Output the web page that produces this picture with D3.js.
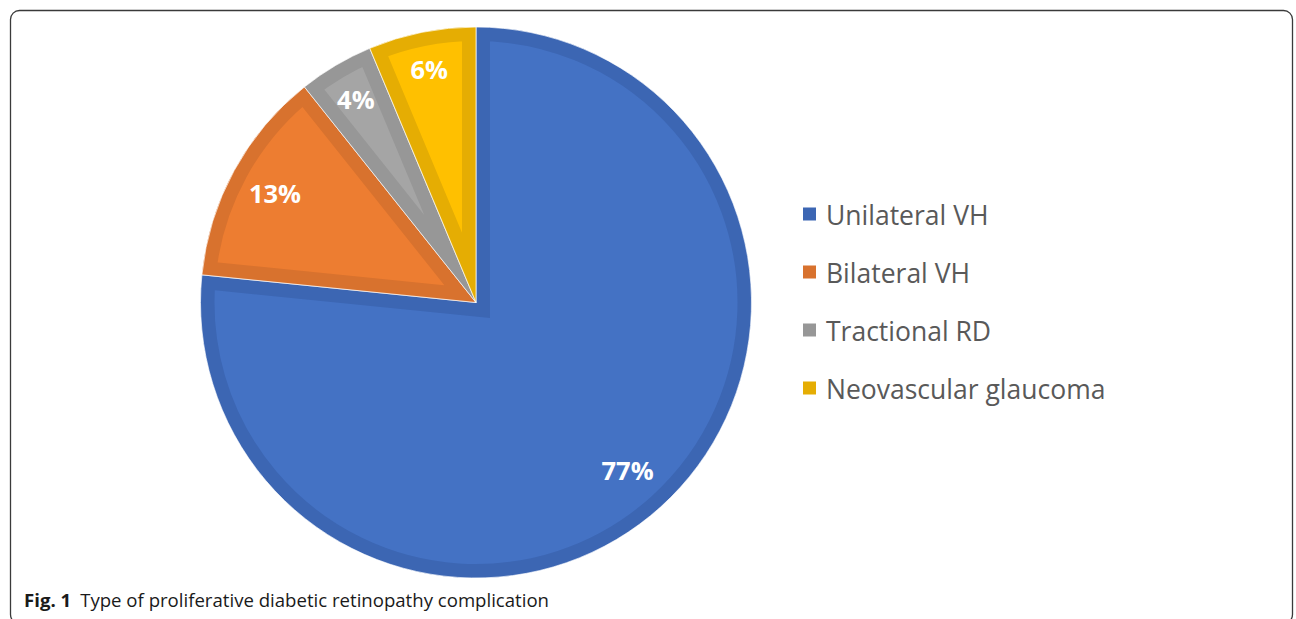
<!DOCTYPE html>
<html>
<head>
<meta charset="utf-8">
<script src="https://cdn.jsdelivr.net/npm/d3@7/dist/d3.min.js"></script>
<style>
  html, body { margin: 0; padding: 0; background: #fff; }
  svg { display: block; }
</style>
</head>
<body>
<svg id="chart" width="1296" height="619"></svg>
<script>
const categories = ["Unilateral VH", "Bilateral VH", "Tractional RD", "Neovascular glaucoma"];
const values = [76.6, 12.7, 4.4, 6.3];
const valueLabels = ["77%", "13%", "4%", "6%"];
const fillColors = ["#4472C4", "#ED7D31", "#A5A5A5", "#FFC000"];
const borderColors = ["#3C66B3", "#D8722E", "#979797", "#E5AD03"];
const captionBold = "Fig. 1";
const captionText = "Type of proliferative diabetic retinopathy complication";

const svg = d3.select("#chart");

// Frame
svg.append("rect")
  .attr("x", 10.5).attr("y", 10.5)
  .attr("width", 1282).attr("height", 613)
  .attr("rx", 9).attr("ry", 9)
  .attr("fill", "none")
  .attr("stroke", "#3a3a3a")
  .attr("stroke-width", 1.3);

const cx = 476, cy = 302.5, r = 275.5;
const border = 14;
const labelRadii = [226, 229, 236, 238];

const pie = d3.pie().sort(null).value(d => d.v);
const data = categories.map((c, i) => ({ c, v: values[i], i }));
const arcs = pie(data);
const arc = d3.arc().innerRadius(0).outerRadius(r);

const g = svg.append("g").attr("transform", `translate(${cx},${cy})`);
const defs = svg.append("defs");

arcs.forEach((a, k) => {
  defs.append("clipPath").attr("id", "clip" + k)
    .append("path").attr("d", arc(a));
});

const slices = g.selectAll("g.slice").data(arcs).enter().append("g").attr("class", "slice");
slices.append("path")
  .attr("d", arc)
  .attr("fill", d => fillColors[d.data.i])
  .attr("stroke", d => borderColors[d.data.i])
  .attr("stroke-width", border * 2)
  .attr("stroke-linejoin", "miter")
  .attr("clip-path", (d, k) => `url(#clip${k})`);
slices.append("path")
  .attr("d", arc)
  .attr("fill", "none")
  .attr("stroke", "#ffffff")
  .attr("stroke-opacity", 0.7)
  .attr("stroke-width", 1);

// Labels
g.selectAll("text.lbl").data(arcs).enter().append("text")
  .attr("class", "lbl")
  .attr("transform", d => {
    const rr = labelRadii[d.data.i];
    const [x, y] = d3.arc().innerRadius(rr).outerRadius(rr).centroid(d);
    return `translate(${x},${y})`;
  })
  .attr("text-anchor", "middle")
  .attr("dominant-baseline", "central")
  .attr("font-family", "'Open Sans', 'Noto Sans', sans-serif")
  .attr("font-weight", "bold")
  .attr("font-size", 25.5)
  .attr("fill", "#ffffff")
  .text(d => valueLabels[d.data.i]);

// Legend
const legend = svg.append("g");
const legendY = d3.scalePoint().domain(categories).range([214, 388]);
const items = legend.selectAll("g").data(data).enter().append("g")
  .attr("transform", d => `translate(803,${legendY(d.c)})`);
items.append("rect")
  .attr("x", 0).attr("y", -6.5).attr("width", 13).attr("height", 13)
  .attr("fill", d => borderColors[d.i]);
items.append("text")
  .attr("x", 23).attr("y", 1)
  .attr("dominant-baseline", "central")
  .attr("font-family", "'Open Sans', 'Noto Sans', sans-serif")
  .attr("font-size", 26.5)
  .attr("fill", "#595959")
  .text(d => d.c);

// Caption
const cap = svg.append("text")
  .attr("x", 24).attr("y", 607)
  .attr("font-family", "'Open Sans', 'Noto Sans', sans-serif")
  .attr("font-size", 18.6)
  .attr("fill", "#1a1a1a");
cap.append("tspan").attr("font-weight", "bold").text(captionBold);
cap.append("tspan").attr("dx", 9).text(captionText);
</script>
</body>
</html>
